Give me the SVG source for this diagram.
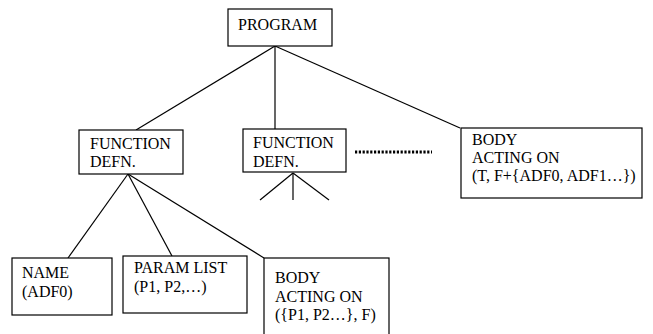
<svg xmlns="http://www.w3.org/2000/svg" width="653" height="334" viewBox="0 0 653 334">
<style>
.box{fill:#fff;stroke:#000;stroke-width:1.2}
.t{font-family:'Liberation Serif','DejaVu Serif','Times New Roman',serif;font-size:16px;fill:#000}
.c{stroke:#000;stroke-width:1.2;fill:none}
</style>
<rect width="653" height="334" fill="#fff"/>
<g id="connectors">
<line class="c" x1="275" y1="46" x2="136" y2="130"/>
<line class="c" x1="275" y1="46" x2="275" y2="129"/>
<line class="c" x1="275" y1="46" x2="460" y2="128"/>
<line class="c" x1="128" y1="174" x2="68" y2="258"/>
<line class="c" x1="128" y1="174" x2="172" y2="256"/>
<line class="c" x1="128" y1="174" x2="264" y2="258"/>
<line class="c" x1="293" y1="173" x2="260" y2="200"/>
<line class="c" x1="293" y1="173" x2="293" y2="200"/>
<line class="c" x1="293" y1="173" x2="329" y2="200"/>
<line x1="355" y1="152" x2="432" y2="152" stroke="#000" stroke-width="3" stroke-dasharray="2.2,1.6"/>
</g>
<g id="program">
<rect class="box" x="228" y="9" width="104" height="37"/>
<text class="t" x="238" y="30">PROGRAM</text>
</g>
<g id="func1">
<rect class="box" x="79" y="130" width="104" height="44"/>
<text class="t" x="90" y="149">FUNCTION</text>
<text class="t" x="90" y="167">DEFN.</text>
</g>
<g id="func2">
<rect class="box" x="243" y="129" width="103" height="43"/>
<text class="t" x="253" y="148">FUNCTION</text>
<text class="t" x="253" y="167">DEFN.</text>
</g>
<g id="body1">
<rect class="box" x="461" y="128" width="181" height="70"/>
<text class="t" x="472" y="145">BODY</text>
<text class="t" x="472" y="163">ACTING ON</text>
<text class="t" x="472" y="181">(T, F+{ADF0, ADF1…})</text>
</g>
<g id="name">
<rect class="box" x="12" y="258" width="100" height="57"/>
<text class="t" x="22" y="278">NAME</text>
<text class="t" x="22" y="297">(ADF0)</text>
</g>
<g id="param">
<rect class="box" x="123" y="256" width="124" height="57"/>
<text class="t" x="134" y="273">PARAM LIST</text>
<text class="t" x="134" y="292">(P1, P2,…)</text>
</g>
<g id="body2">
<rect class="box" x="264" y="258" width="125" height="90"/>
<text class="t" x="275" y="283">BODY</text>
<text class="t" x="275" y="302">ACTING ON</text>
<text class="t" x="275" y="320">({P1, P2…}, F)</text>
</g>
</svg>
